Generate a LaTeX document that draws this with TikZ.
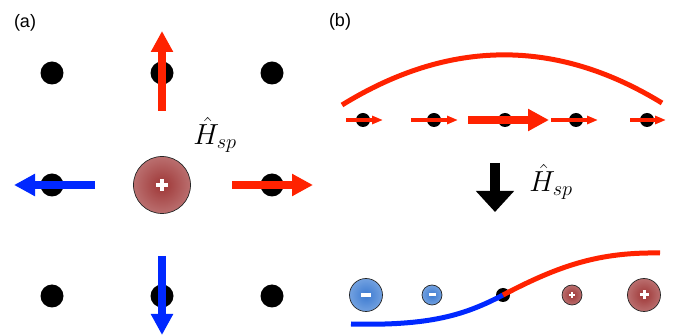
\RequirePackage{fix-cm}
\documentclass[tikz,border=0pt]{standalone}
\usepackage{fontspec}
\usepackage{tikz}
\usetikzlibrary{arrows.meta}
\newfontfamily\panelfont{Liberation Sans}
\definecolor{spinred}{HTML}{FF2200}
\definecolor{spinblue}{HTML}{0028FF}
\definecolor{posin}{HTML}{9E3636}
\definecolor{posout}{HTML}{D6A8A8}
\definecolor{negin}{HTML}{3C7AD0}
\definecolor{negout}{HTML}{A8C8F0}
\pgfdeclareradialshading{posball}{\pgfpointorigin}{color(0bp)=(posin); color(50bp)=(posout)}
\pgfdeclareradialshading{negball}{\pgfpointorigin}{color(0bp)=(negin); color(50bp)=(negout)}

\begin{document}
\begin{tikzpicture}[
  x=1pt,y=-1pt,
  dot/.style={circle,fill=black,minimum size=23pt,inner sep=0pt},
  sdot/.style={circle,fill=black,minimum size=14pt,inner sep=0pt},
  ball/.style={circle,draw=black!85,line width=0.7pt,inner sep=0pt,shade,minimum size=#1},
  plussign/.style 2 args={path picture={
    \draw[white,line width=#2] ([xshift=-#1]path picture bounding box.center) -- ([xshift=#1]path picture bounding box.center)
      ([yshift=-#1]path picture bounding box.center) -- ([yshift=#1]path picture bounding box.center);}},
  minussign/.style 2 args={path picture={
    \draw[white,line width=#2] ([xshift=-#1]path picture bounding box.center) -- ([xshift=#1]path picture bounding box.center);}},
  pos/.style={ball=#1,shading=posball},
  neg/.style={ball=#1,shading=negball},
  redarrow/.style={-{Triangle[length=21pt,width=21pt]},line width=8pt,spinred},
  bluearrow/.style={-{Triangle[length=21pt,width=21pt]},line width=8pt,spinblue},
  smallarrow/.style={-{Triangle[length=11pt,width=8pt]},line width=4pt,spinred},
  bigarrow/.style={-{Triangle[length=21pt,width=37pt]},line width=9.5pt,black},
  hlabel/.style={inner sep=0pt,font=\fontsize{29}{34}\selectfont},
  panel/.style={inner sep=0pt,font=\panelfont\fontsize{18}{21}\selectfont},
  chain/.style={line width=5pt}
]
  \useasboundingbox (0,0) rectangle (696,336);

  % (a) square lattice
  \node[panel] (la) at (25,23) {(a)};
  \foreach \r/\yy in {1/73,2/185,3/296}
    \foreach \c/\xx in {1/52,2/162,3/272}
      {\ifnum\r\c=22 \else \node[dot] (a\r\c) at (\xx,\yy) {}; \fi}
  \node[pos=57pt,plussign={6pt}{4pt}] (chg) at (162,185) {};
  \draw[redarrow] ([yshift=-38pt]a12.center) -- ([yshift=42pt]a12.center);
  \draw[bluearrow] ([xshift=43pt]a21.center) -- ([xshift=-38pt]a21.center);
  \draw[redarrow] ([xshift=-40pt]a23.center) -- ([xshift=41pt]a23.center);
  \draw[bluearrow] ([yshift=40pt]a32.center) -- ([yshift=-39pt]a32.center);
  \node[hlabel] (ha) at (215,135) {$\hat{H}_{sp}$};

  % (b) chain
  \node[panel] (lb) at (340,22) {(b)};
  \draw[chain,spinred] (342,105) .. controls (449,39) and (556,38) .. (662,103);
  \foreach \i/\xx in {1/363,2/434,3/505,4/576,5/647}
    \node[sdot] (b\i) at (\xx,120) {};
  \draw[smallarrow] ([xshift=-17pt]b1.center) -- ([xshift=20pt]b1.center);
  \draw[smallarrow] ([xshift=-23pt]b2.center) -- ([xshift=24pt]b2.center);
  \draw[redarrow] ([xshift=-37pt]b3.center) -- ([xshift=44pt]b3.center);
  \draw[smallarrow] ([xshift=-25pt]b4.center) -- ([xshift=22pt]b4.center);
  \draw[smallarrow] ([xshift=-17pt]b5.center) -- ([xshift=19pt]b5.center);

  \coordinate (top) at (495,163);
  \coordinate (bot) at (495,212);
  \draw[bigarrow] (top) -- (bot);
  \node[hlabel] (hb) at (551,182) {$\hat{H}_{sp}$};

  \node[neg=33pt,minussign={5pt}{4pt}] (c1) at (366,295) {};
  \node[neg=20pt,minussign={3.5pt}{3pt}] (c2) at (432,295) {};
  \node[sdot] (c3) at (503,295) {};
  \node[pos=20pt,plussign={3pt}{2pt}] (c4) at (572,295) {};
  \node[pos=33pt,plussign={4.5pt}{3pt}] (c5) at (644,295) {};
  \draw[chain,spinblue] (351,324) .. controls (430,326) and (465,315) .. (c3.center);
  \draw[chain,spinred] (c3.center) .. controls (560,265) and (600,252) .. (660,253);
\end{tikzpicture}
\end{document}
